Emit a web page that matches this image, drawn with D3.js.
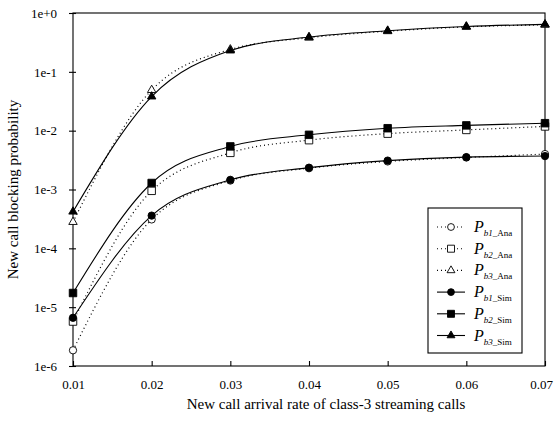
<!DOCTYPE html>
<html>
<head>
<meta charset="utf-8">
<script src="https://cdn.jsdelivr.net/npm/d3@7"></script>
<style>
  body { margin: 0; background: #fff; }
  text { font-family: "Liberation Serif", "Times New Roman", serif; fill: #000; }
</style>
</head>
<body>
<div id="chart"></div>
<script>
const rates = [0.01, 0.02, 0.03, 0.04, 0.05, 0.06, 0.07];
const pb1Ana = [1.85e-6, 3.1e-4, 1.42e-3, 2.3e-3, 3.0e-3, 3.5e-3, 4.0e-3];
const pb2Ana = [5.7e-6, 9.5e-4, 4.2e-3, 6.9e-3, 8.9e-3, 1.03e-2, 1.18e-2];
const pb3Ana = [2.8e-4, 4.9e-2, 0.24, 0.38, 0.49, 0.58, 0.63];
const pb1Sim = [6.6e-6, 3.6e-4, 1.46e-3, 2.35e-3, 3.1e-3, 3.55e-3, 3.7e-3];
const pb2Sim = [1.74e-5, 1.29e-3, 5.4e-3, 8.5e-3, 1.1e-2, 1.23e-2, 1.34e-2];
const pb3Sim = [4.2e-4, 3.8e-2, 0.23, 0.39, 0.50, 0.59, 0.64];
const yTicks = [1, 1e-1, 1e-2, 1e-3, 1e-4, 1e-5, 1e-6];
const yTickLabels = ["1e+0", "1e-1", "1e-2", "1e-3", "1e-4", "1e-5", "1e-6"];

const series = [
  { sub: "b1", tag: "Ana", values: pb1Ana, shape: "circle", filled: false },
  { sub: "b2", tag: "Ana", values: pb2Ana, shape: "square", filled: false },
  { sub: "b3", tag: "Ana", values: pb3Ana, shape: "triangle", filled: false },
  { sub: "b1", tag: "Sim", values: pb1Sim, shape: "circle", filled: true },
  { sub: "b2", tag: "Sim", values: pb2Sim, shape: "square", filled: true },
  { sub: "b3", tag: "Sim", values: pb3Sim, shape: "triangle", filled: true }
];

const W = 555, H = 432;
const margin = { top: 13, right: 10, bottom: 66, left: 73 };
const width = W - margin.left - margin.right;
const height = H - margin.top - margin.bottom;

const svg = d3.select("#chart").append("svg")
  .attr("width", W).attr("height", H);
const g = svg.append("g")
  .attr("transform", `translate(${margin.left},${margin.top})`);

const x = d3.scaleLinear().domain([0.01, 0.07]).range([0, width]);
const y = d3.scaleLog().domain([1e-6, 1]).range([height, 0]);

// frame
g.append("rect")
  .attr("width", width).attr("height", height)
  .attr("fill", "none").attr("stroke", "#000").attr("stroke-width", 1.1);

const xAxis = g.append("g")
  .attr("transform", `translate(0,${height})`)
  .call(d3.axisBottom(x).tickValues(rates).tickFormat(d3.format(".2f")).tickSizeInner(-5).tickSizeOuter(0).tickPadding(14));
const yAxis = g.append("g")
  .call(d3.axisLeft(y).tickValues(yTicks).tickFormat((d, i) => yTickLabels[i]).tickSize(4).tickPadding(12));
[xAxis, yAxis].forEach(a => {
  a.select(".domain").remove();
  a.selectAll("line").attr("stroke", "#000").attr("stroke-width", 1.1);
  a.selectAll("text").attr("font-size", 13).attr("font-family", "Liberation Serif");
});
yAxis.selectAll("line").attr("x1", 3);
xAxis.selectAll(".tick text").filter(d => d === 0.07).attr("dx", -4);

const line = d3.line()
  .x((d, i) => x(rates[i]))
  .y(d => y(d))
  .curve(d3.curveMonotoneX);

function marker(sel, s, size) {
  const sym = { circle: d3.symbolCircle, square: d3.symbolSquare, triangle: d3.symbolTriangle }[s.shape];
  const area = s.shape === "circle" ? size * size * 0.75 : (s.shape === "triangle" ? size * size * 0.55 : size * size);
  sel.attr("d", d3.symbol().type(sym).size(area)())
    .attr("fill", s.filled ? "#000" : "#fff")
    .attr("stroke", "#000")
    .attr("stroke-width", 0.9);
}

series.forEach(s => {
  g.append("path")
    .datum(s.values)
    .attr("d", line)
    .attr("fill", "none")
    .attr("stroke", "#000")
    .attr("stroke-width", s.tag === "Ana" ? 1.2 : 1.1)
    .attr("stroke-dasharray", s.tag === "Ana" ? "1,3" : null);
});
series.forEach(s => {
  g.selectAll(null)
    .data(s.values)
    .enter().append("path")
    .attr("transform", (d, i) => `translate(${x(rates[i])},${y(d)})`)
    .call(sel => marker(sel, s, 7.5));
});

// legend
const lg = svg.append("g").attr("transform", "translate(428,208)");
lg.append("rect")
  .attr("width", 94).attr("height", 145)
  .attr("fill", "#fff").attr("stroke", "#000").attr("stroke-width", 1.1);
series.forEach((s, i) => {
  const row = lg.append("g").attr("transform", `translate(0,${19 + i * 21.7})`);
  row.append("line")
    .attr("x1", 9).attr("x2", 37)
    .attr("stroke", "#000").attr("stroke-width", 1.1)
    .attr("stroke-dasharray", s.tag === "Ana" ? "1,3" : null);
  row.append("path")
    .attr("transform", "translate(23,0)")
    .call(sel => marker(sel, s, 7));
  const t = row.append("text").attr("x", 46).attr("y", 5).attr("font-size", 16);
  t.append("tspan").attr("font-style", "italic").text("P");
  t.append("tspan").attr("font-size", 9).attr("dy", 4).attr("font-style", "italic").text(s.sub);
  t.append("tspan").attr("font-size", 9).text("_" + s.tag);
});

// axis titles
svg.append("text")
  .attr("x", margin.left + width / 2 + 17).attr("y", 409)
  .attr("text-anchor", "middle").attr("font-size", 15)
  .text("New call arrival rate of class-3 streaming calls");
svg.append("text")
  .attr("transform", `translate(18,${margin.top + height / 2}) rotate(-90)`)
  .attr("text-anchor", "middle").attr("font-size", 15)
  .text("New call blocking probability");
</script>
</body>
</html>
